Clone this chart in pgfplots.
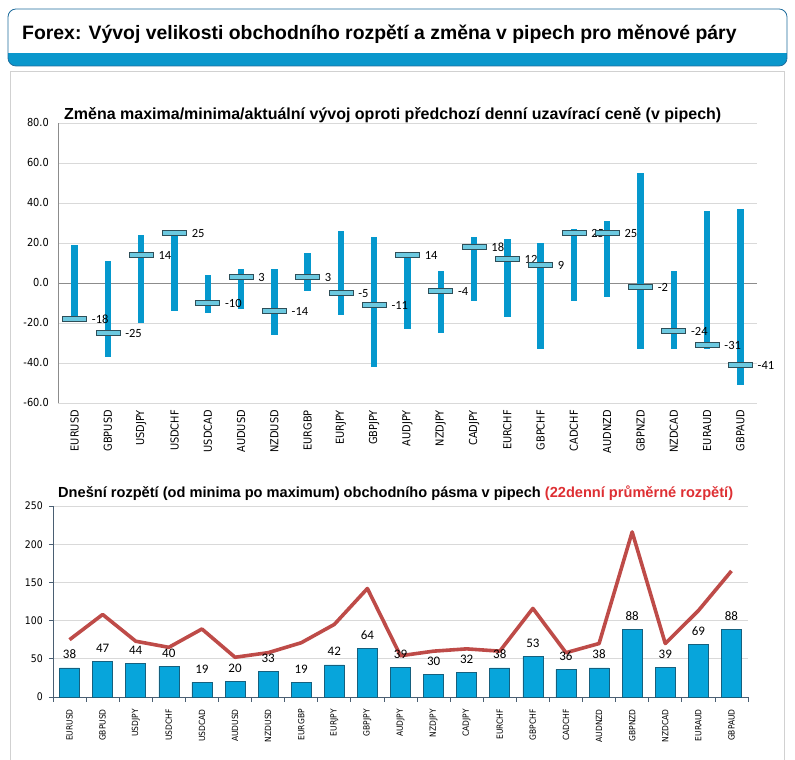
\documentclass[border=0pt]{standalone}
\usepackage{pgfplots}
\pgfplotsset{compat=1.18}
\usepackage{pgfplotstable}
\usepackage{fontspec}
\setmainfont{Liberation Sans}
\newfontfamily\tah[FakeStretch=0.89]{DejaVu Sans}
\newfontfamily\calfont{Carlito}

\definecolor{band}{HTML}{0A97CC}
\definecolor{boxedge}{HTML}{1F6C9C}
\definecolor{rng}{HTML}{0598CD}
\definecolor{mk}{HTML}{6CC9E0}
\definecolor{mkedge}{HTML}{2E4E58}
\definecolor{gridc}{HTML}{D9D9D9}
\definecolor{zeroc}{HTML}{8C8C8C}
\definecolor{barfill}{HTML}{07A5DB}
\definecolor{barline}{HTML}{16607E}
\definecolor{avgred}{HTML}{BE4B48}
\definecolor{titred}{HTML}{DE2F33}
\definecolor{axc}{HTML}{4A5E72}

% current value marker: flat horizontal bar
\pgfdeclareplotmark{hbar}{%
  \pgfpathrectangle{\pgfpoint{-12pt}{-2.5pt}}{\pgfpoint{24pt}{5pt}}%
  \pgfusepathqfillstroke}

% max / min / current change against previous close (pips)
\pgfplotstableread{
x lab hi lo cur
0 EURUSD 19 -19 -18
1 GBPUSD 11 -37 -25
2 USDJPY 24 -20 14
3 USDCHF 26 -14 25
4 USDCAD 4 -15 -10
5 AUDUSD 7 -13 3
6 NZDUSD 7 -26 -14
7 EURGBP 15 -4 3
8 EURJPY 26 -16 -5
9 GBPJPY 23 -42 -11
10 AUDJPY 15 -23 14
11 NZDJPY 6 -25 -4
12 CADJPY 23 -9 18
13 EURCHF 22 -17 12
14 GBPCHF 20 -33 9
15 CADCHF 27 -9 25
16 AUDNZD 31 -7 25
17 GBPNZD 55 -33 -2
18 NZDCAD 6 -33 -24
19 EURAUD 36 -33 -31
20 GBPAUD 37 -51 -41
}\topdata

% today's range and 22-day average range
\pgfplotstableread{
x lab today avg
0 EURUSD 38 75
1 GBPUSD 47 108
2 USDJPY 44 73
3 USDCHF 40 65
4 USDCAD 19 89
5 AUDUSD 20 52
6 NZDUSD 33 58
7 EURGBP 19 71
8 EURJPY 42 95
9 GBPJPY 64 142
10 AUDJPY 39 54
11 NZDJPY 30 60
12 CADJPY 32 63
13 EURCHF 38 60
14 GBPCHF 53 116
15 CADCHF 36 58
16 AUDNZD 38 70
17 GBPNZD 88 216
18 NZDCAD 39 70
19 EURAUD 69 113
20 GBPAUD 88 165
}\lowdata

\begin{document}
\begin{tikzpicture}
\path[use as bounding box] (0pt,0pt) rectangle (795pt,760pt);

% panel frame
\draw[black!18, line width=1pt] (10pt,0pt) -- (10pt,688pt) -- (784pt,688pt) -- (784pt,0pt);

% header box
\begin{scope}
  \clip[rounded corners=8pt] (8pt,694pt) rectangle (787pt,751pt);
  \fill[white] (8pt,694pt) rectangle (787pt,751pt);
  \fill[band] (8pt,694pt) rectangle (787pt,707pt);
\end{scope}
\draw[boxedge, rounded corners=8pt, line width=0.8pt] (8pt,694pt) rectangle (787pt,751pt);
\node[anchor=base west, inner sep=0pt, font=\bfseries\fontsize{19.4}{20}\selectfont]
  at (22pt,720pt) {Forex: Vývoj velikosti obchodního rozpětí a změna v pipech pro měnové páry};

% chart titles
\node[anchor=base west, inner sep=0pt, font=\bfseries\fontsize{16}{16}\selectfont]
  at (64pt,640pt) {Změna maxima/minima/aktuální vývoj oproti předchozí denní uzavírací ceně (v pipech)};
\node[anchor=base west, inner sep=0pt, font=\bfseries\fontsize{14.6}{15}\selectfont]
  at (58pt,262pt) {Dnešní rozpětí (od minima po maximum) obchodního pásma v pipech \textcolor{titred}{(22denní průměrné rozpětí)}};

% upper chart
\begin{axis}[
  at={(58pt,357pt)}, anchor=south west, scale only axis,
  width=699pt, height=280pt,
  xmin=-0.5, xmax=20.5, ymin=-60, ymax=80,
  ytick={-60,-40,...,80},
  xtick={0,...,20}, xticklabels from table={\topdata}{lab},
  axis lines*=left,
  x axis line style={draw=none},
  y axis line style={draw=zeroc, line width=0.8pt},
  major tick length=0pt,
  ymajorgrids, major grid style={gridc, line width=0.8pt},
  tick label style={font=\tah\fontsize{11}{11}\selectfont, inner sep=0pt},
  xticklabel style={rotate=90, anchor=east},
  xticklabel shift=7pt,
  yticklabel shift=9pt,
  yticklabel style={/pgf/number format/.cd, fixed, fixed zerofill, precision=1},
  /pgf/number format/assume math mode=true,
  clip=false,
]
\draw[zeroc, line width=0.8pt] (axis cs:-0.5,0) -- (axis cs:20.5,0);
\addplot[only marks, mark=none, forget plot,
  error bars/.cd, y dir=both, y explicit, error mark=none,
  error bar style={draw=rng, line width=6.5pt}]
  table[x=x, y=cur,
        y error plus expr=\thisrow{hi}-\thisrow{cur},
        y error minus expr=\thisrow{cur}-\thisrow{lo}] {\topdata};
\addplot[only marks, mark=hbar, mark options={fill=mk, draw=mkedge, line width=0.7pt},
  nodes near coords, point meta=explicit symbolic,
  every node near coord/.append style={anchor=base west, inner sep=0pt,
    xshift=17pt, yshift=-5pt, text=black, font=\calfont\fontsize{12.5}{12.5}\selectfont}]
  table[x=x, y=cur, meta=cur] {\topdata};
\end{axis}

% lower chart
\begin{axis}[
  at={(53pt,63pt)}, anchor=south west, scale only axis,
  width=695pt, height=191pt,
  xmin=-0.5, xmax=20.5, ymin=0, ymax=250,
  ytick={0,50,...,250},
  xtick={0,...,20}, xticklabels from table={\lowdata}{lab},
  minor xtick={-0.5,0.5,...,20.5},
  axis lines*=left,
  axis line style={draw=axc, line width=0.8pt},
  tick align=outside,
  tick style={draw=axc, line width=0.8pt},
  every major x tick/.append style={draw=none},
  major tick length=4pt, minor tick length=5pt,
  ymajorgrids, major grid style={gridc, line width=0.8pt},
  tick label style={inner sep=0pt},
  yticklabel style={font=\tah\fontsize{10.5}{10.5}\selectfont},
  xticklabel style={rotate=90, anchor=east, font=\tah\fontsize{8.5}{8.5}\selectfont},
  xticklabel shift=8pt,
  yticklabel shift=6pt,
  /pgf/number format/assume math mode=true,
  clip=false,
]
\addplot[ybar, bar width=20pt, fill=barfill, draw=barline, line width=0.6pt,
  nodes near coords, point meta=explicit symbolic,
  every node near coord/.append style={anchor=base, inner sep=0pt, yshift=9pt,
    text=black, font=\calfont\fontsize{13}{13}\selectfont}]
  table[x=x, y=today, meta=today] {\lowdata};
\addplot[avgred, line width=3.6pt, line join=round, mark=none] table[x=x, y=avg] {\lowdata};
\end{axis}
\end{tikzpicture}
\end{document}
